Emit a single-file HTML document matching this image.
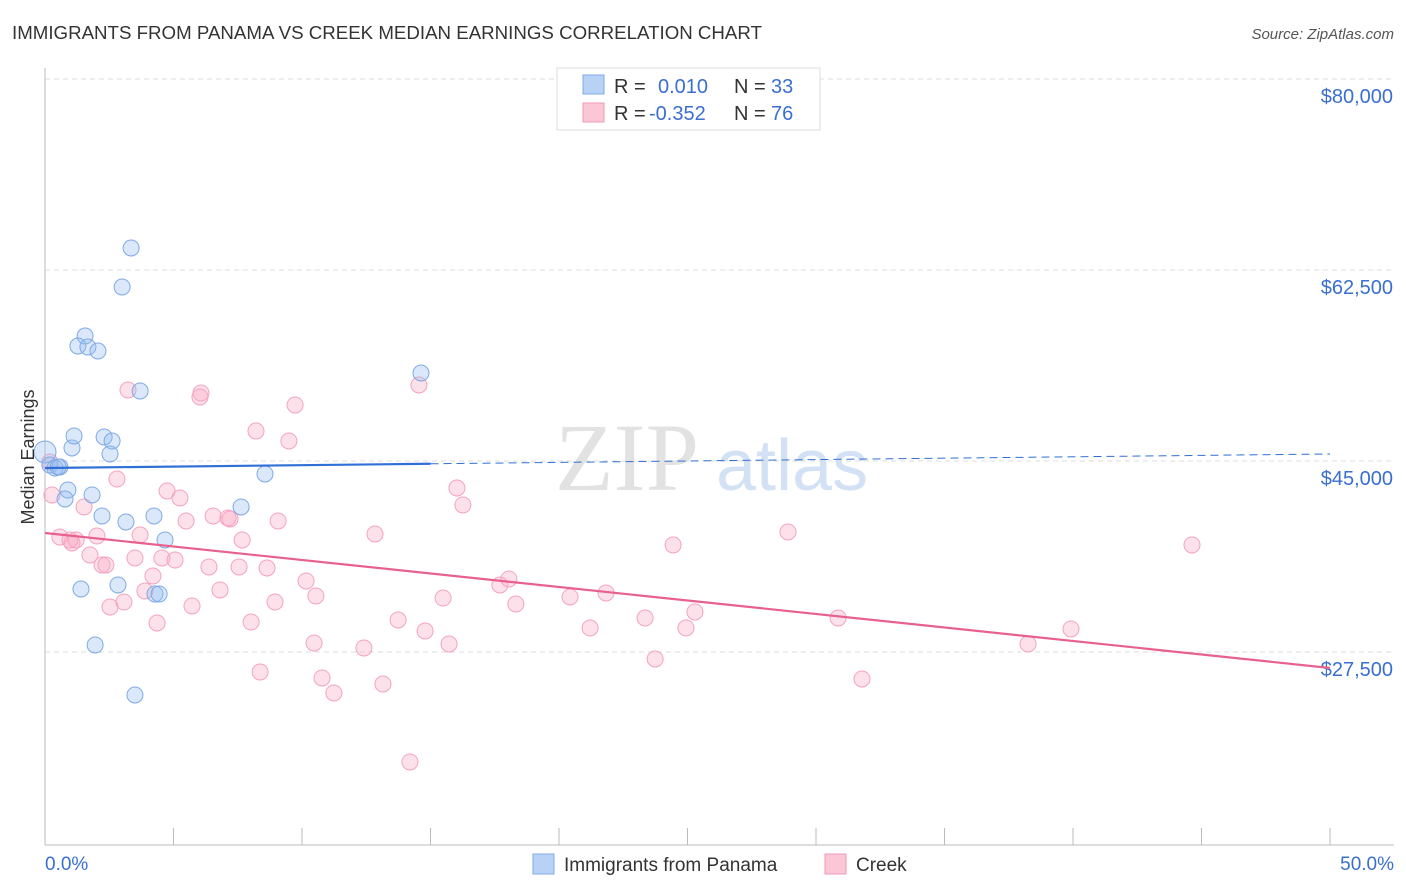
<!DOCTYPE html>
<html><head><meta charset="utf-8"><style>
body{margin:0;background:#fff;font-family:"Liberation Sans",sans-serif;}
svg{display:block}
</style></head><body>
<svg id="chart" width="1406" height="892" xmlns="http://www.w3.org/2000/svg">
<text x="12" y="39" font-size="18" fill="#333" textLength="750" lengthAdjust="spacingAndGlyphs">IMMIGRANTS FROM PANAMA VS CREEK MEDIAN EARNINGS CORRELATION CHART</text>
<text x="1394" y="39" font-size="15" fill="#555" font-style="italic" text-anchor="end">Source: ZipAtlas.com</text>
<text x="555" y="490" font-size="96" fill="#e2e2e2" font-family="Liberation Serif,serif">ZIP</text>
<text x="716" y="490" font-size="72" fill="#d3e1f5">atlas</text>
<g id="grid"></g>
<g id="axes"></g>
<g id="marks"></g>
<text transform="translate(34,457) rotate(-90)" font-size="18" fill="#333" text-anchor="middle">Median Earnings</text>
<g>
<rect x="557" y="68" width="263" height="62" fill="#fff" stroke="#ddd"/>
<rect x="583" y="75" width="21" height="19" fill="#b8d2f5" stroke="#7fa9e6"/>
<rect x="583" y="103" width="21" height="19" fill="#fbc6d5" stroke="#f09ab5"/>
<text x="614" y="93" font-size="20" fill="#333">R = </text><text x="658" y="93" font-size="20" fill="#3a6fd1">0.010</text>
<text x="734" y="93" font-size="20" fill="#333">N = </text><text x="771" y="93" font-size="20" fill="#3a6fd1">33</text>
<text x="614" y="120" font-size="20" fill="#333">R = </text><text x="649" y="120" font-size="20" fill="#3a6fd1">-0.352</text>
<text x="734" y="120" font-size="20" fill="#333">N = </text><text x="771" y="120" font-size="20" fill="#3a6fd1">76</text>
</g>
<g>
<rect x="533" y="854" width="21" height="20" fill="#b8d2f5" stroke="#7fa9e6"/>
<text x="564" y="871" font-size="19" fill="#333">Immigrants from Panama</text>
<rect x="825" y="854" width="21" height="20" fill="#fbc6d5" stroke="#f09ab5"/>
<text x="856" y="871" font-size="19" fill="#333">Creek</text>
</g>
</svg>
<script>
const yTicks=[80000,62500,45000,27500];
const yTickLabels=["$80,000","$62,500","$45,000","$27,500"];
const xTickVals=[0,5,10,15,20,25,30,35,40,45,50];
const xEndLabels=["0.0%","50.0%"];
const panamaX=[0,0.19,0.58,0.39,1.05,1.13,2.30,2.61,2.53,1.56,1.28,1.67,2.06,3.35,3.00,3.70,14.63,8.56,0.89,0.78,1.83,2.22,3.15,4.24,7.63,4.67,1.40,2.84,4.28,4.44,1.95,3.50,0.51];
const panamaY=[45826,44634,44451,44360,46192,47292,47200,46833,45643,56453,55537,55446,55079,64516,60943,51414,53063,43810,42344,41520,41886,39962,39412,39962,40787,37763,33273,33640,32815,32815,28143,23562,44451];
const creekX=[0.19,0.27,0.58,1.05,1.21,1.75,2.02,2.22,2.37,1.52,2.80,3.23,3.50,3.70,4.20,4.36,3.89,4.55,4.75,5.25,5.06,5.49,5.72,6.07,6.03,6.38,6.54,6.81,7.12,7.20,7.67,7.55,8.02,8.21,8.37,8.64,8.95,9.07,9.49,9.73,10.16,10.54,10.47,10.78,11.24,12.41,12.84,13.15,13.74,14.20,14.55,14.79,15.49,15.72,16.03,16.26,17.70,18.05,18.32,20.43,21.21,21.83,23.35,23.74,24.44,24.94,25.29,28.91,30.86,31.79,38.25,39.92,44.63,2.53,3.07,0.97];
const creekY=[44910,41886,38038,37488,37763,36389,38130,35473,35473,40787,43352,51506,36114,38221,34465,30159,33091,36114,42253,41611,35931,39504,31716,51231,50865,35289,39962,33182,39779,39687,37763,35289,30250,47750,25669,35198,32083,39504,46834,50132,34007,32632,28326,25120,23745,27868,38313,24570,30434,17424,51964,29426,32449,28235,42527,40970,33640,34190,31899,32541,29701,32907,30617,26860,37305,29701,31167,38496,30617,25028,28235,29609,37305,31625,32083,37763];
const panamaTrend=[44360,45643];
const creekTrend=[38405,26035];
const NS="http://www.w3.org/2000/svg";
const X=v=>45+v/50*1285;
const Y=v=>79+(80000-v)*191/17500;
function mk(t,a,p){const e=document.createElementNS(NS,t);for(const k in a)e.setAttribute(k,a[k]);p.appendChild(e);return e;}
const grid=document.getElementById('grid'),axes=document.getElementById('axes'),marks=document.getElementById('marks');
yTicks.forEach((v,i)=>{
 const l=mk('line',{x1:45,x2:1394,y1:Y(v),y2:Y(v),stroke:'#ddd','stroke-dasharray':'5,4'},grid);
 
 
 const t=mk('text',{x:1393,y:Y(v)+24,'font-size':20,fill:'#3a6fd1','text-anchor':'end'},axes);
 t.textContent=yTickLabels[i];
 
 
});
const ax=mk('line',{x1:45,x2:45,y1:68,y2:845,stroke:'#bbb'},axes);


const bx=mk('line',{x1:45,x2:1394,y1:845,y2:845,stroke:'#bbb'},axes);


xTickVals.forEach(v=>{
 const l=mk('line',{x1:X(v),x2:X(v),y1:828,y2:845,stroke:'#bbb'},axes);
 
 
});
const xl0=mk('text',{x:45,y:870,'font-size':19,fill:'#3a6fd1'},axes);xl0.textContent=xEndLabels[0];


const xl1=mk('text',{x:1394,y:870,'font-size':19,fill:'#3a6fd1','text-anchor':'end'},axes);xl1.textContent=xEndLabels[1];


creekX.forEach((x,i)=>{
 const c=mk('circle',{cx:X(x),cy:Y(creekY[i]),r:8,fill:'rgba(248,170,195,0.35)',stroke:'#f4a3bd','stroke-width':1},marks);
 
 
});
panamaX.forEach((x,i)=>{
 const c=mk('circle',{cx:X(x),cy:Y(panamaY[i]),r:i==0?11:8,fill:'rgba(150,190,240,0.35)',stroke:'#7fa9e6','stroke-width':1},marks);
 
 
});
const py=x=>panamaTrend[0]+(panamaTrend[1]-panamaTrend[0])*x/50;
const t1=mk('line',{x1:X(0),y1:Y(py(0)),x2:X(15),y2:Y(py(15)),stroke:'#2f6fd6','stroke-width':2.2},marks);


const t2=mk('line',{x1:X(15),y1:Y(py(15)),x2:X(50),y2:Y(py(50)),stroke:'#2f6fd6','stroke-width':1,'stroke-dasharray':'8,5'},marks);


const t3=mk('line',{x1:X(0),y1:Y(creekTrend[0]),x2:X(50),y2:Y(creekTrend[1]),stroke:'#e8608e','stroke-width':2.2},marks);


</script>
</body></html>
